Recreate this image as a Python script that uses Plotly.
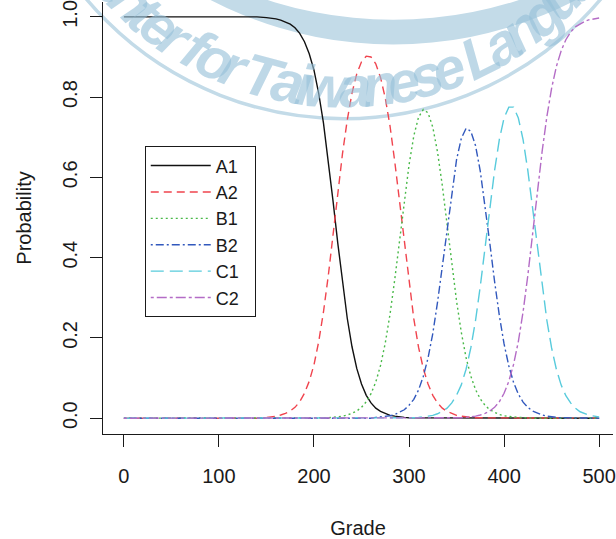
import math
import plotly.graph_objects as go

# ---------------- data ----------------
grades = [0, 10, 20, 30, 40, 50, 60, 70, 80, 90, 100, 110, 120, 130, 140,
          150, 155, 160, 165, 170, 175, 180, 185, 190, 195,
          200, 205, 210, 215, 220, 225, 230, 235, 240, 245,
          250, 255, 260, 265, 270, 275, 280, 285, 290, 295,
          300, 305, 310, 315, 320, 325, 330, 335, 340, 345,
          350, 355, 360, 365, 370, 375, 380, 385, 390, 395,
          400, 405, 410, 415, 420, 425, 430, 435, 440, 445,
          450, 455, 460, 465, 470, 475, 480, 485, 490, 495,
          500]

A1 = [1, 1, 1, 1, 1, 1, 1, 1, 1, 1, 1, 1, 1, 1, 1,
      0.998, 0.997, 0.995, 0.992, 0.988, 0.982, 0.973, 0.959, 0.938, 0.908,
      0.867, 0.809, 0.735, 0.645, 0.542, 0.437, 0.336, 0.249, 0.178, 0.124,
      0.085, 0.057, 0.038, 0.025, 0.017, 0.011, 0.007, 0.005, 0.003, 0.002,
      0.001, 0.001, 0.001, 0, 0, 0, 0, 0, 0, 0,
      0, 0, 0, 0, 0, 0, 0, 0, 0, 0,
      0, 0, 0, 0, 0, 0, 0, 0, 0, 0,
      0, 0, 0, 0, 0, 0, 0, 0, 0, 0,
      0]

A2 = [0, 0, 0, 0, 0, 0, 0, 0, 0, 0, 0, 0, 0, 0, 0,
      0.002, 0.003, 0.005, 0.008, 0.012, 0.018, 0.027, 0.041, 0.062, 0.092,
      0.133, 0.191, 0.265, 0.354, 0.456, 0.560, 0.659, 0.743, 0.810, 0.858,
      0.888, 0.902, 0.900, 0.883, 0.849, 0.798, 0.728, 0.639, 0.539, 0.435,
      0.335, 0.248, 0.177, 0.124, 0.085, 0.057, 0.038, 0.025, 0.017, 0.011,
      0.007, 0.005, 0.003, 0.002, 0.001, 0.001, 0.001, 0, 0, 0,
      0, 0, 0, 0, 0, 0, 0, 0, 0, 0,
      0, 0, 0, 0, 0, 0, 0, 0, 0, 0,
      0]

B1 = [0, 0, 0, 0, 0, 0, 0, 0, 0, 0, 0, 0, 0, 0, 0,
      0, 0, 0, 0, 0, 0, 0, 0, 0, 0,
      0, 0, 0, 0.001, 0.002, 0.003, 0.005, 0.008, 0.012, 0.018,
      0.027, 0.041, 0.061, 0.090, 0.131, 0.187, 0.259, 0.346, 0.444, 0.542,
      0.631, 0.703, 0.750, 0.769, 0.761, 0.725, 0.663, 0.580, 0.483, 0.384,
      0.292, 0.214, 0.151, 0.105, 0.071, 0.048, 0.032, 0.021, 0.014, 0.009,
      0.006, 0.004, 0.003, 0.002, 0.001, 0.001, 0, 0, 0, 0,
      0, 0, 0, 0, 0, 0, 0, 0, 0, 0,
      0]

B2 = [0, 0, 0, 0, 0, 0, 0, 0, 0, 0, 0, 0, 0, 0, 0,
      0, 0, 0, 0, 0, 0, 0, 0, 0, 0,
      0, 0, 0, 0, 0, 0, 0, 0, 0, 0,
      0, 0, 0, 0.002, 0.003, 0.004, 0.006, 0.009, 0.014, 0.021,
      0.032, 0.047, 0.070, 0.104, 0.150, 0.211, 0.289, 0.379, 0.475, 0.567,
      0.644, 0.697, 0.722, 0.715, 0.679, 0.615, 0.531, 0.436, 0.341, 0.256,
      0.185, 0.130, 0.089, 0.060, 0.040, 0.027, 0.018, 0.012, 0.008, 0.005,
      0.003, 0.002, 0.001, 0.001, 0.001, 0, 0, 0, 0, 0,
      0]

C1 = [0, 0, 0, 0, 0, 0, 0, 0, 0, 0, 0, 0, 0, 0, 0,
      0, 0, 0, 0, 0, 0, 0, 0, 0, 0,
      0, 0, 0, 0, 0, 0, 0, 0, 0, 0,
      0, 0, 0, 0, 0, 0, 0, 0, 0, 0,
      0, 0.001, 0.002, 0.003, 0.005, 0.007, 0.011, 0.017, 0.025, 0.038,
      0.057, 0.083, 0.122, 0.175, 0.244, 0.329, 0.425, 0.524, 0.617, 0.694,
      0.748, 0.775, 0.775, 0.748, 0.694, 0.617, 0.524, 0.425, 0.329, 0.244,
      0.175, 0.122, 0.083, 0.056, 0.038, 0.025, 0.016, 0.011, 0.007, 0.005,
      0.003]

C2 = [0, 0, 0, 0, 0, 0, 0, 0, 0, 0, 0, 0, 0, 0, 0,
      0, 0, 0, 0, 0, 0, 0, 0, 0, 0,
      0, 0, 0, 0, 0, 0, 0, 0, 0, 0,
      0, 0, 0, 0, 0, 0, 0, 0, 0, 0,
      0, 0, 0, 0, 0, 0, 0, 0, 0, 0,
      0, 0.001, 0.002, 0.003, 0.005, 0.008, 0.012, 0.018, 0.027, 0.041,
      0.062, 0.092, 0.134, 0.191, 0.265, 0.356, 0.458, 0.563, 0.664, 0.751,
      0.822, 0.876, 0.915, 0.943, 0.962, 0.975, 0.983, 0.989, 0.993, 0.995,
      0.997]

series_names = ["A1", "A2", "B1", "B2", "C1", "C2"]
x_ticks = [0, 100, 200, 300, 400, 500]
y_ticks = [0.0, 0.2, 0.4, 0.6, 0.8, 1.0]
y_tick_labels = ["0.0", "0.2", "0.4", "0.6", "0.8", "1.0"]

# ---------------- styles ----------------
colors = ["#111111", "#f0444e", "#49b949", "#3158bd", "#58cbdc", "#b46cc6"]
dashes = ["solid", "8px,5px", "2px,3px", "2px,3px,8px,3px", "13px,6px", "3px,3px,10px,3px"]
FONT = "Liberation Sans, Arial, sans-serif"
INK = "#1a1a1a"
NB = "\u00a0"

fig = go.Figure()
for name, vals, col, dsh in zip(series_names, [A1, A2, B1, B2, C1, C2], colors, dashes):
    fig.add_trace(go.Scatter(x=grades, y=vals, mode="lines", name=name + NB * 2,
                             line=dict(color=col, width=1.4, dash=dsh)))

# ---------------- watermark (decoration) ----------------
L_M, T_M, PW, PH = 103, 0, 513, 437


def px_to_paper(px, py):
    return (px - L_M) / PW, (T_M + PH - py) / PH


def circle_shape(cx, cy, r, **kw):
    x0, y1 = px_to_paper(cx - r, cy - r)
    x1, y0 = px_to_paper(cx + r, cy + r)
    return dict(type="circle", xref="paper", yref="paper",
                x0=x0, x1=x1, y0=y0, y1=y1, layer="below", **kw)


WM = "rgba(150,192,216,0.62)"
WM_SOLID = "#c3dbe8"
shapes = [
    circle_shape(395, -355, 398, fillcolor=WM_SOLID, line=dict(width=0)),
    circle_shape(395, -391, 409, fillcolor="white", line=dict(width=0)),
    circle_shape(345, -219, 337, fillcolor="rgba(0,0,0,0)", line=dict(color=WM_SOLID, width=3.5)),
]

em = {"C": .722, "e": .556, "n": .611, "t": .333, "r": .389, " ": .24, "f": .333,
      "o": .611, "T": .611, "a": .556, "i": .278, "w": .778, "s": .556, "L": .611,
      "g": .611, "u": .611}
wm_text = "Center for Taiwanese Languages"
adv = 42.0
rc = 305.0
cx, cy = 345.0, -219.0
theta_T = -0.265
centers = [0.0]
for i in range(1, len(wm_text)):
    centers.append(centers[-1] + (em[wm_text[i - 1]] + em[wm_text[i]]) / 2 * adv)
t_idx = wm_text.index("T")
annotations = []
for ch, s in zip(wm_text, centers):
    if ch == " ":
        continue
    th = theta_T + (s - centers[t_idx]) / rc
    px = cx + rc * math.sin(th)
    py = cy + rc * math.cos(th)
    xp, yp = px_to_paper(px, py)
    annotations.append(dict(x=xp, y=yp, xref="paper", yref="paper", showarrow=False,
                            text="<b><i>%s</i></b>" % ch, textangle=-math.degrees(th),
                            xanchor="center", yanchor="middle",
                            font=dict(family=FONT, size=58, color=WM)))

fig.update_layout(
    width=616, height=539,
    margin=dict(l=L_M, r=0, t=T_M, b=539 - PH),
    paper_bgcolor="white", plot_bgcolor="white",
    font=dict(family=FONT, size=20, color=INK),
    shapes=shapes, annotations=annotations,
    showlegend=True,
    legend=dict(x=(145 - L_M) / PW, y=1 - 146 / PH, xanchor="left", yanchor="top",
                bgcolor="white", bordercolor=INK, borderwidth=1, itemwidth=60,
                font=dict(family=FONT, size=18, color=INK), tracegroupgap=0),
    xaxis=dict(range=[-21.97, 514.6], tickvals=x_ticks, ticks="outside", ticklen=12,
               tickcolor=INK, tickwidth=1, showline=True, linecolor=INK, linewidth=1,
               showgrid=False, zeroline=False, ticklabelstandoff=12,
               ticklabeloverflow="allow",
               tickfont=dict(size=20, color=INK),
               title=dict(text="Grade", standoff=38, font=dict(size=20, color=INK))),
    yaxis=dict(range=[-0.0394, 1.037], tickvals=y_ticks, ticktext=y_tick_labels,
               tickangle=-90, ticks="outside", ticklen=12, tickcolor=INK, tickwidth=1,
               showline=True, linecolor=INK, linewidth=1, showgrid=False, zeroline=False,
               ticklabelstandoff=5, ticklabeloverflow="allow",
               tickfont=dict(size=20, color=INK),
               title=dict(text="Probability", standoff=22, font=dict(size=20, color=INK))),
)

fig.write_html("out.html", config={"displayModeBar": False},
               post_script="document.body.style.margin='0';")
